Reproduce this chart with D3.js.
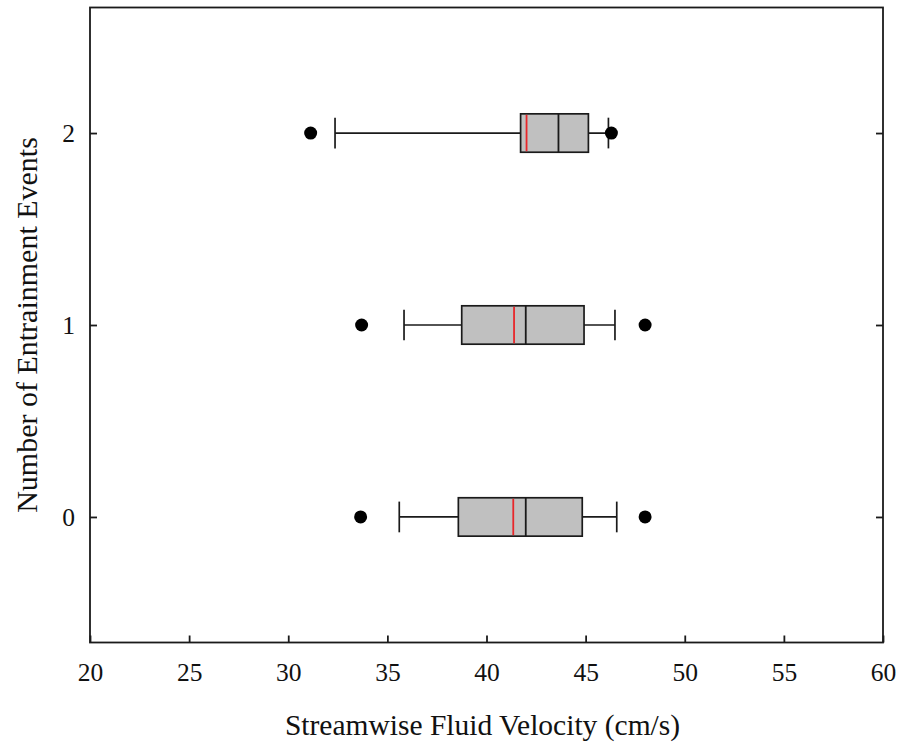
<!DOCTYPE html>
<html>
<head>
<meta charset="utf-8">
<script src="https://cdn.jsdelivr.net/npm/d3@7"></script>
<style>
  body { margin: 0; background: #fff; }
  text { font-family: "Liberation Serif", "Times New Roman", serif; fill: #111; }
</style>
</head>
<body>
<svg id="chart"></svg>
<script>
// values, one entry per group (0, 1, 2 entrainment events)
const groups = [0, 1, 2];
const lowOutliers = [33.65, 33.7, 31.13];
const whiskerLow = [35.6, 35.84, 32.36];
const q1 = [38.58, 38.75, 41.72];
const medians = [41.98, 41.98, 43.63];
const means = [41.35, 41.39, 42.02];
const q3 = [44.83, 44.92, 45.14];
const whiskerHigh = [46.57, 46.48, 46.15];
const highOutliers = [48.0, 48.0, 46.3];
const xTicks = [20, 25, 30, 35, 40, 45, 50, 55, 60];

const width = 901, height = 742;
const margin = {top: 7.5, right: 18, bottom: 99.5, left: 90};

const svg = d3.select("#chart")
    .attr("width", width)
    .attr("height", height);

const x = d3.scaleLinear()
    .domain([20, 60])
    .range([margin.left, width - margin.right]);

const y = d3.scaleLinear()
    .domain([-0.654, 2.654])
    .range([height - margin.bottom, margin.top]);

const data = groups.map((g, i) => ({
    g: g,
    lo: lowOutliers[i], wl: whiskerLow[i], q1: q1[i], med: medians[i],
    mean: means[i], q3: q3[i], wh: whiskerHigh[i], hi: highOutliers[i]
}));

const boxHalf = 0.1, capHalf = 0.08;
const ink = "#1a1a1a";

// frame
svg.append("rect")
    .attr("x", x(20))
    .attr("y", y(2.654))
    .attr("width", x(60) - x(20))
    .attr("height", y(-0.654) - y(2.654))
    .attr("fill", "none")
    .attr("stroke", ink)
    .attr("stroke-width", 1.8);

// axes, ticks pointing inward
const xAxis = svg.append("g")
    .attr("transform", `translate(0,${y(-0.654)})`)
    .call(d3.axisBottom(x).tickValues(xTicks).tickSize(-7).tickPadding(20));

const yAxis = svg.append("g")
    .attr("transform", `translate(${x(20)},0)`)
    .call(d3.axisLeft(y).tickValues(groups).tickFormat(d3.format("d")).tickSize(-7).tickPadding(15));

const yAxisRight = svg.append("g")
    .attr("transform", `translate(${x(60)},0)`)
    .call(d3.axisRight(y).tickValues(groups).tickFormat("").tickSize(-7));

[xAxis, yAxis, yAxisRight].forEach(a => {
    a.attr("font-family", null).attr("font-size", null);
    a.select(".domain").remove();
    a.selectAll(".tick line").attr("stroke", ink).attr("stroke-width", 1.8);
    a.selectAll(".tick text")
        .style("font-family", "'Liberation Serif', 'Times New Roman', serif")
        .style("font-size", "25.5px")
        .attr("fill", "#111");
});

const box = svg.selectAll(".box")
    .data(data)
    .enter().append("g")
    .attr("class", "box");

// whisker line
box.append("line")
    .attr("x1", d => x(d.wl))
    .attr("x2", d => x(d.wh))
    .attr("y1", d => y(d.g))
    .attr("y2", d => y(d.g))
    .attr("stroke", ink)
    .attr("stroke-width", 1.7);

// whisker caps
box.selectAll(".cap")
    .data(d => [d.wl, d.wh].map(v => ({v: v, g: d.g})))
    .enter().append("line")
    .attr("x1", c => x(c.v))
    .attr("x2", c => x(c.v))
    .attr("y1", c => y(c.g + capHalf))
    .attr("y2", c => y(c.g - capHalf))
    .attr("stroke", ink)
    .attr("stroke-width", 1.7);

// box
box.append("rect")
    .attr("x", d => x(d.q1))
    .attr("y", d => y(d.g + boxHalf))
    .attr("width", d => x(d.q3) - x(d.q1))
    .attr("height", d => y(d.g - boxHalf) - y(d.g + boxHalf))
    .attr("fill", "#c0c0c0")
    .attr("stroke", ink)
    .attr("stroke-width", 1.7);

// mean (red)
box.append("line")
    .attr("x1", d => x(d.mean))
    .attr("x2", d => x(d.mean))
    .attr("y1", d => y(d.g + boxHalf) + 1)
    .attr("y2", d => y(d.g - boxHalf) - 1)
    .attr("stroke", "#e8262a")
    .attr("stroke-width", 1.8);

// median
box.append("line")
    .attr("x1", d => x(d.med))
    .attr("x2", d => x(d.med))
    .attr("y1", d => y(d.g + boxHalf))
    .attr("y2", d => y(d.g - boxHalf))
    .attr("stroke", ink)
    .attr("stroke-width", 1.8);

// outliers
box.selectAll(".outlier")
    .data(d => [d.lo, d.hi].map(v => ({v: v, g: d.g})))
    .enter().append("circle")
    .attr("cx", c => x(c.v))
    .attr("cy", c => y(c.g))
    .attr("r", 6.5)
    .attr("fill", "#000");

// axis titles
svg.append("text")
    .attr("text-anchor", "middle")
    .attr("x", (x(20) + x(60)) / 2 - 4)
    .attr("y", 735)
    .style("font-size", "29.5px")
    .text("Streamwise Fluid Velocity (cm/s)");

svg.append("text")
    .attr("text-anchor", "middle")
    .attr("transform", "rotate(-90)")
    .attr("x", -(y(-0.654) + y(2.654)) / 2)
    .attr("y", 37)
    .style("font-size", "30px")
    .text("Number of Entrainment Events");
</script>
</body>
</html>
